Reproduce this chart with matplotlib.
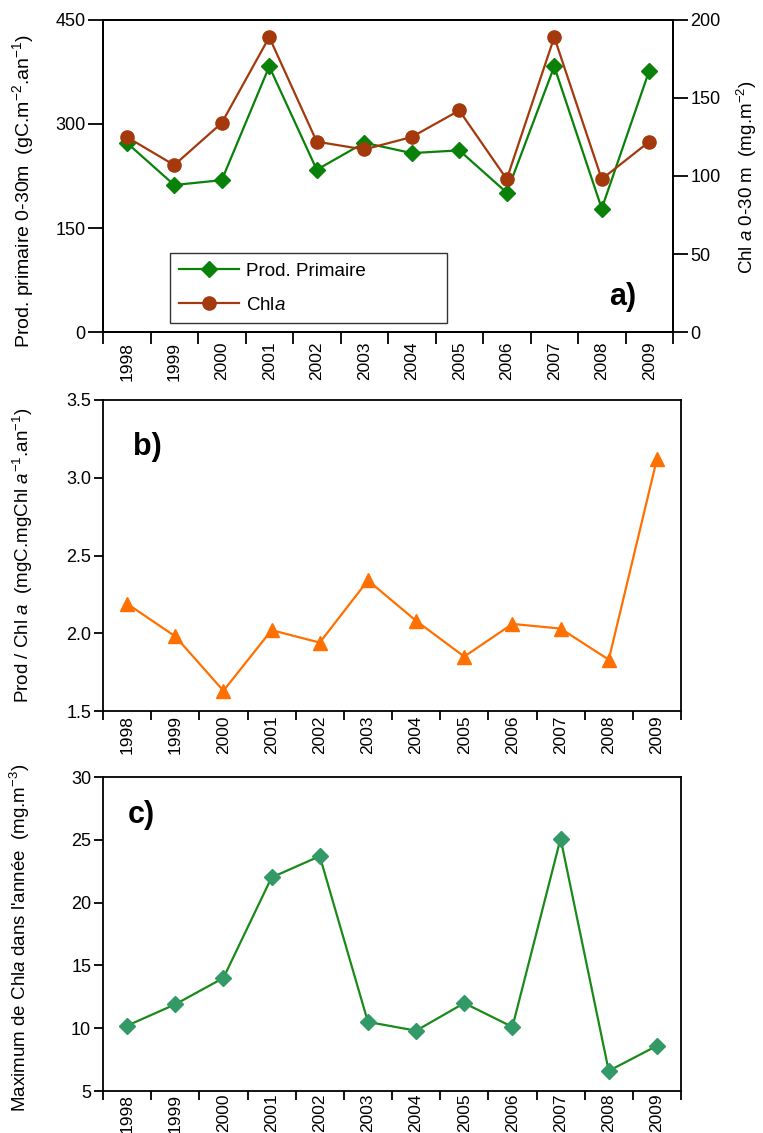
import numpy as np
import matplotlib
matplotlib.use("Agg")
import matplotlib.pyplot as plt

# data
years = ["1998", "1999", "2000", "2001", "2002", "2003",
         "2004", "2005", "2006", "2007", "2008", "2009"]
prod_primaire = [273, 212, 219, 383, 234, 273, 258, 262, 201, 383, 178, 377]
chla_030 = [125, 107, 134, 189, 122, 117, 125, 142, 98, 189, 98, 122]
prod_chla = [2.19, 1.98, 1.63, 2.02, 1.94, 2.34, 2.08, 1.85, 2.06, 2.03, 1.83, 3.12]
chla_max = [10.2, 11.9, 14.0, 22.0, 23.7, 10.5, 9.8, 12.0, 10.1, 25.1, 6.6, 8.6]

plt.rcParams["font.family"] = ["Liberation Sans", "DejaVu Sans"]
plt.rcParams["mathtext.fontset"] = "custom"
plt.rcParams["mathtext.rm"] = "Liberation Sans"
plt.rcParams["mathtext.it"] = "Liberation Sans:italic"

x = np.arange(len(years)) + 0.5

fig = plt.figure(figsize=(7.63, 11.33), dpi=100)
W, H = 763.0, 1133.0


def add_axes(left, right, top, bottom):
    return fig.add_axes([left / W, 1 - bottom / H, (right - left) / W, (bottom - top) / H])


def style_axes(ax, ticklen, pad, ylen):
    """year labels sit between the tick marks"""
    ax.set_xlim(0, len(years))
    ax.set_xticks(np.arange(len(years) + 1))
    ax.set_xticklabels([])
    ax.set_xticks(x, minor=True)
    ax.set_xticklabels(years, minor=True, rotation=90, fontsize=12.5)
    ax.tick_params(axis="x", which="major", direction="out", length=ticklen, width=1.3)
    ax.tick_params(axis="x", which="minor", length=0, pad=pad)
    ax.tick_params(axis="y", direction="out", length=ylen, width=1.3, labelsize=13, pad=2)
    for s in ax.spines.values():
        s.set_linewidth(1.3)


# ---- a) primary production and Chl a
ax1 = add_axes(103, 673, 20, 332)
l1, = ax1.plot(x, prod_primaire, color="#0a820a", lw=1.6, marker="D", ms=8,
               label="Prod. Primaire")
ax1.set_ylim(0, 450)
ax1.set_yticks([0, 150, 300, 450])
style_axes(ax1, 8.5, 7, 10.5)
ax1.set_ylabel("Prod. primaire 0-30m  (gC.m$^{-2}$.an$^{-1}$)", fontsize=14)
ax1.yaxis.set_label_coords(-0.118, 0.452)

ax2 = ax1.twinx()
l2, = ax2.plot(x, chla_030, color="#a3390c", lw=1.6, marker="o", ms=9.5,
               label="Chl$\\it{a}$")
ax2.set_ylim(0, 200)
ax2.set_yticks([0, 50, 100, 150, 200])
ax2.tick_params(axis="y", direction="out", length=10.5, width=1.3, labelsize=13, pad=2)
ax2.set_ylabel("Chl $\\it{a}$ 0-30 m  (mg.m$^{-2}$)", fontsize=13.5)
ax2.yaxis.set_label_coords(1.108, 0.497)
for s in ax2.spines.values():
    s.set_linewidth(1.3)

leg = ax2.legend(handles=[l1, l2], loc="lower left",
                 bbox_to_anchor=(0.1175, 0.029, 0.486, 0.2), mode="expand",
                 fontsize=13.5, frameon=True, fancybox=False, handlelength=3.2,
                 handletextpad=0.35, labelspacing=0.9, borderpad=0.5,
                 borderaxespad=0)
leg.get_frame().set_edgecolor("black")
leg.get_frame().set_linewidth(1.0)
ax2.text(0.912, 0.112, "a)", transform=ax2.transAxes, fontsize=22,
         fontweight="bold", ha="center", va="center")

# ---- b) production / Chl a ratio
ax3 = add_axes(103, 681, 400, 711)
ax3.plot(x, prod_chla, color="#ff7000", lw=1.6, marker="^", ms=9.5)
ax3.set_ylim(1.5, 3.5)
ax3.set_yticks([1.5, 2.0, 2.5, 3.0, 3.5])
ax3.set_yticklabels(["1.5", "2.0", "2.5", "3.0", "3.5"])
style_axes(ax3, 6.5, 3, 6.5)
ax3.set_ylabel("Prod / Chl $\\it{a}$  (mgC.mgChl $\\it{a}^{-1}$.an$^{-1}$)", fontsize=13.5)
ax3.yaxis.set_label_coords(-0.118, 0.5)
ax3.text(0.077, 0.85, "b)", transform=ax3.transAxes, fontsize=22,
         fontweight="bold", ha="center", va="center")

# ---- c) yearly maximum of Chl a
ax4 = add_axes(103, 681, 777, 1091)
ax4.plot(x, chla_max, color="#1a8a1a", lw=1.6, marker="D", ms=8,
         markerfacecolor="#339966", markeredgecolor="#339966")
ax4.set_ylim(5, 30)
ax4.set_yticks([5, 10, 15, 20, 25, 30])
style_axes(ax4, 6.5, 2, 6.5)
ax4.set_ylabel("Maximum de Chl$\\it{a}$ dans l'année  (mg.m$^{-3}$)", fontsize=13.5)
ax4.yaxis.set_label_coords(-0.123, 0.487)
ax4.text(0.066, 0.88, "c)", transform=ax4.transAxes, fontsize=22,
         fontweight="bold", ha="center", va="center")

fig.savefig("out.png", dpi=100)
